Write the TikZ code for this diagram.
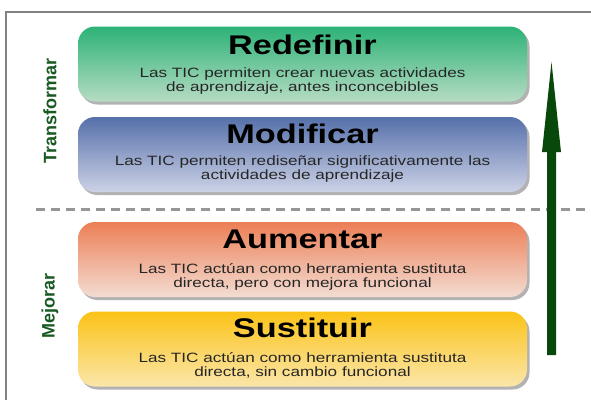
\documentclass[tikz,border=0pt]{standalone}
\usepackage{fontspec}
\setmainfont{Liberation Sans}
\newfontfamily\widefont[FakeStretch=1.27]{Liberation Sans}
\usetikzlibrary{shadows}
\definecolor{gtop}{RGB}{44,178,118}
\definecolor{gbot}{RGB}{182,220,196}
\definecolor{btop}{RGB}{86,112,170}
\definecolor{bbot}{RGB}{204,210,230}
\definecolor{otop}{RGB}{236,127,86}
\definecolor{obot}{RGB}{243,220,210}
\definecolor{ytop}{RGB}{251,195,23}
\definecolor{ybot}{RGB}{251,230,170}
\definecolor{sidegreen}{RGB}{25,90,35}
\definecolor{arrowgreen}{RGB}{8,72,10}
\definecolor{framegray}{RGB}{130,130,130}
\definecolor{dashgray}{RGB}{150,150,150}
\begin{document}
\begin{tikzpicture}[x=1pt,y=-1pt,
  box/.style={rounded corners=17pt, minimum width=449pt, minimum height=75pt, inner sep=0pt,
    drop shadow={shadow xshift=2.5pt, shadow yshift=-3pt, fill=black!50, opacity=0.6}},
  ttl/.style={font=\widefont\bfseries\fontsize{27}{30}\selectfont, inner sep=0pt},
  body/.style={font=\widefont\fontsize{13.5}{14}\selectfont, align=center, text=black!85, inner sep=0pt},
  side/.style={font=\bfseries\fontsize{18}{20}\selectfont, text=sidegreen, rotate=90}]
\useasboundingbox (0,0) rectangle (591,400);
\fill[white] (0,0) rectangle (591,400);
\draw[framegray, line width=1.3pt] (6,400) -- (6,12) -- (591,12);
% boxes
\node[box, top color=gtop, bottom color=gbot] (r) at (302.5,64) {};
\node[box, top color=btop, bottom color=bbot] (m) at (302.5,154.5) {};
\node[box, top color=otop, bottom color=obot] (a) at (302.5,259.5) {};
\node[box, top color=ytop, bottom color=ybot] (s) at (302.5,349) {};
% titles
\node[ttl] (rt) at ([yshift=-19pt]r.north) {Redefinir};
\node[ttl] (mt) at ([yshift=-17pt]m.north) {Modificar};
\node[ttl] (at) at ([yshift=-18pt]a.north) {Aumentar};
\node[ttl] (st) at ([yshift=-17pt]s.north) {Sustituir};
% bodies
\node[body] (rb) at ([yshift=-55pt]r.north) {Las TIC permiten crear nuevas actividades\\de aprendizaje, antes inconcebibles};
\node[body] (mb) at ([yshift=-52pt]m.north) {Las TIC permiten rediseñar significativamente las\\actividades de aprendizaje};
\node[body] (ab) at ([yshift=-55pt]a.north) {Las TIC actúan como herramienta sustituta\\directa, pero con mejora funcional};
\node[body] (sb) at ([yshift=-54pt]s.north) {Las TIC actúan como herramienta sustituta\\directa, sin cambio funcional};
% side labels
\node[side] (tr) at (50,111) {Transformar};
\node[side] (mj) at (50,306) {Mejorar};
% dashed separator
\draw[dashgray, line width=3pt, dash pattern=on 9pt off 6pt] (36,209) -- (591,209);
% arrow
\fill[arrowgreen] (547,355) -- (547,152) -- (542,152) -- (551.5,62) -- (561,152) -- (556,152) -- (556,355) -- cycle;
\end{tikzpicture}
\end{document}
